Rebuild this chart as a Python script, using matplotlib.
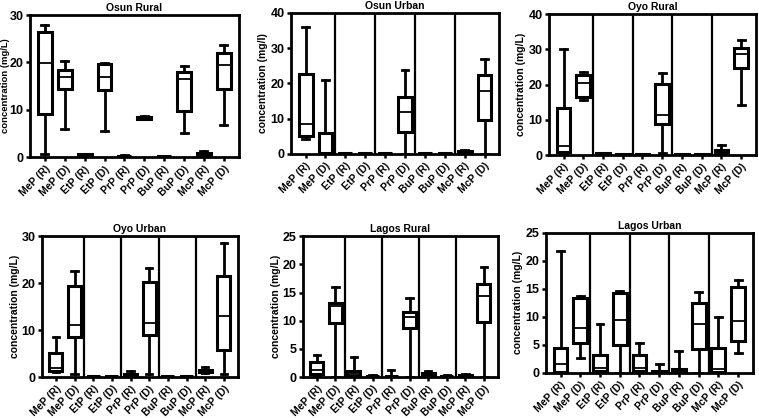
import matplotlib
matplotlib.use('Agg')
import matplotlib.pyplot as plt

plt.rcParams['font.family'] = ['Liberation Sans', 'DejaVu Sans']
plt.rcParams['font.weight'] = 'bold'

categories = ['MeP (R)', 'MeP (D)', 'EtP (R)', 'EtP (D)', 'PrP (R)',
              'PrP (D)', 'BuP (R)', 'BuP (D)', 'McP (R)', 'McP (D)']

# five-number summaries per category: [min, q1, median, q3, max]
osun_rural = [[0.7, 9.2, 19.9, 26.4, 28.0], [6.0, 14.3, 17.0, 18.5, 20.3],
              [0.2, 0.3, 0.4, 0.6, 0.7], [5.6, 14.2, 17.0, 19.7, 19.9],
              [0.1, 0.2, 0.25, 0.3, 0.4], [8.0, 8.1, 8.3, 8.5, 8.6],
              [0.1, 0.15, 0.2, 0.25, 0.3], [5.1, 9.7, 16.4, 18.0, 19.2],
              [0.2, 0.4, 0.6, 0.9, 1.3], [6.8, 14.4, 19.4, 22.0, 23.7]]
osun_urban = [[4.2, 5.1, 8.5, 22.7, 36.0], [0.0, 0.1, 0.2, 5.9, 21.0],
              [0.1, 0.15, 0.2, 0.25, 0.3], [0.1, 0.15, 0.2, 0.25, 0.3],
              [0.1, 0.15, 0.2, 0.25, 0.3], [0.0, 6.2, 11.8, 16.1, 23.7],
              [0.1, 0.15, 0.2, 0.25, 0.3], [0.1, 0.15, 0.2, 0.25, 0.3],
              [0.2, 0.3, 0.5, 0.8, 0.95], [0.0, 9.5, 17.9, 22.4, 27.0]]
oyo_rural = [[0.5, 0.9, 2.6, 13.5, 30.2], [15.6, 16.5, 20.5, 22.7, 23.6],
             [0.2, 0.3, 0.4, 0.5, 0.6], [0.1, 0.15, 0.2, 0.25, 0.3],
             [0.1, 0.15, 0.2, 0.25, 0.3], [0.5, 8.8, 11.5, 20.1, 23.4],
             [0.1, 0.15, 0.2, 0.25, 0.3], [0.1, 0.15, 0.2, 0.25, 0.3],
             [0.3, 0.5, 1.0, 1.4, 2.8], [14.2, 24.6, 28.8, 30.5, 32.8]]
oyo_urban = [[1.0, 1.3, 1.9, 5.2, 8.5], [0.6, 8.5, 11.0, 19.3, 22.6],
             [0.1, 0.15, 0.2, 0.25, 0.3], [0.1, 0.15, 0.2, 0.25, 0.3],
             [0.1, 0.2, 0.4, 0.6, 1.2], [0.7, 9.0, 11.5, 20.2, 23.3],
             [0.1, 0.15, 0.2, 0.25, 0.3], [0.1, 0.15, 0.2, 0.25, 0.3],
             [0.8, 1.0, 1.2, 1.6, 2.1], [0.7, 5.7, 12.9, 21.6, 28.5]]
lagos_rural = [[0.2, 0.5, 1.25, 2.7, 3.9], [0.0, 9.6, 12.6, 13.1, 15.9],
               [0.0, 0.2, 0.6, 1.0, 3.6], [0.1, 0.15, 0.2, 0.25, 0.3],
               [0.0, 0.1, 0.15, 0.2, 1.25], [0.0, 8.7, 10.7, 11.6, 14.0],
               [0.2, 0.3, 0.6, 0.8, 1.1], [0.1, 0.15, 0.2, 0.25, 0.3],
               [0.1, 0.2, 0.3, 0.45, 0.6], [0.0, 9.7, 14.3, 16.5, 19.5]]
lagos_urban = [[0.0, 0.2, 1.6, 4.5, 21.7], [2.6, 5.4, 8.0, 13.4, 13.7],
               [0.0, 0.3, 0.9, 3.1, 8.8], [0.0, 5.0, 9.4, 14.3, 14.7],
               [0.0, 0.3, 0.9, 3.1, 5.3], [0.0, 0.1, 0.2, 0.3, 1.5],
               [0.0, 0.2, 0.4, 0.65, 3.9], [0.0, 4.3, 8.8, 12.5, 14.4],
               [0.0, 0.2, 0.65, 4.5, 10.0], [3.6, 5.6, 9.2, 15.4, 16.6]]

panels = [
    ('Osun Rural', osun_rural, 30, 10, 'concentration (mg/L)', False,
     [0.0395, 0.624, 0.275, 0.340]),
    ('Osun Urban', osun_urban, 40, 10, 'concentration (mg/l)', True,
     [0.383, 0.632, 0.275, 0.337]),
    ('Oyo Rural', oyo_rural, 40, 10, 'concentration (mg/L)', True,
     [0.723, 0.629, 0.273, 0.337]),
    ('Oyo Urban', oyo_urban, 30, 10, 'concentration (mg/L)', True,
     [0.0553, 0.098, 0.258, 0.337]),
    ('Lagos Rural', lagos_rural, 25, 5, 'concentration (mg/L)', True,
     [0.399, 0.098, 0.257, 0.337]),
    ('Lagos Urban', lagos_urban, 25, 5, 'concentration (mg/L)', True,
     [0.719, 0.108, 0.273, 0.335]),
]

fig = plt.figure(figsize=(7.59, 4.18), dpi=100)

for title, summ, ymax, ystep, ylabel, seps, pos in panels:
    ax = fig.add_axes(pos)
    stats = []
    for lab, (lo, q1, med, q3, hi) in zip(categories, summ):
        stats.append(dict(label=lab, whislo=lo, q1=q1, med=med, q3=q3,
                          whishi=hi, fliers=[]))
    ax.bxp(stats, positions=range(len(categories)), widths=0.7,
           showfliers=False, patch_artist=True,
           boxprops=dict(facecolor='white', edgecolor='black', linewidth=2.2),
           whiskerprops=dict(color='black', linewidth=2),
           capprops=dict(color='black', linewidth=2),
           medianprops=dict(color='black', linewidth=1.3),
           capwidths=0.35)
    if seps:
        for s in [1.5, 3.5, 5.5, 7.5]:
            ax.axvline(s, color='black', linewidth=1.6)
    ax.set_xlim(-0.75, 9.75)
    ax.set_ylim(0, ymax)
    ax.set_yticks(range(0, ymax + 1, ystep))
    ax.set_xticks(range(len(categories)))
    ax.set_xticklabels(categories, rotation=45, ha='right',
                       rotation_mode='anchor', fontsize=7.5, fontweight='bold')
    ax.tick_params(axis='y', labelsize=9, width=1.8, length=3, pad=1.5)
    ax.tick_params(axis='x', width=1.8, length=3, pad=2)
    for t in ax.get_yticklabels():
        t.set_fontweight('bold')
    for sp in ax.spines.values():
        sp.set_linewidth(2)
    ax.set_title(title, fontsize=7.5, fontweight='bold', pad=3)
    if title == 'Osun Rural':
        ax.set_ylabel(ylabel, fontsize=6.8, fontweight='bold')
        ax.yaxis.set_label_coords(-0.098, 0.5)
    else:
        ax.set_ylabel(ylabel, fontsize=7.5, fontweight='bold', labelpad=1.5)

fig.savefig('out.png', dpi=100)
